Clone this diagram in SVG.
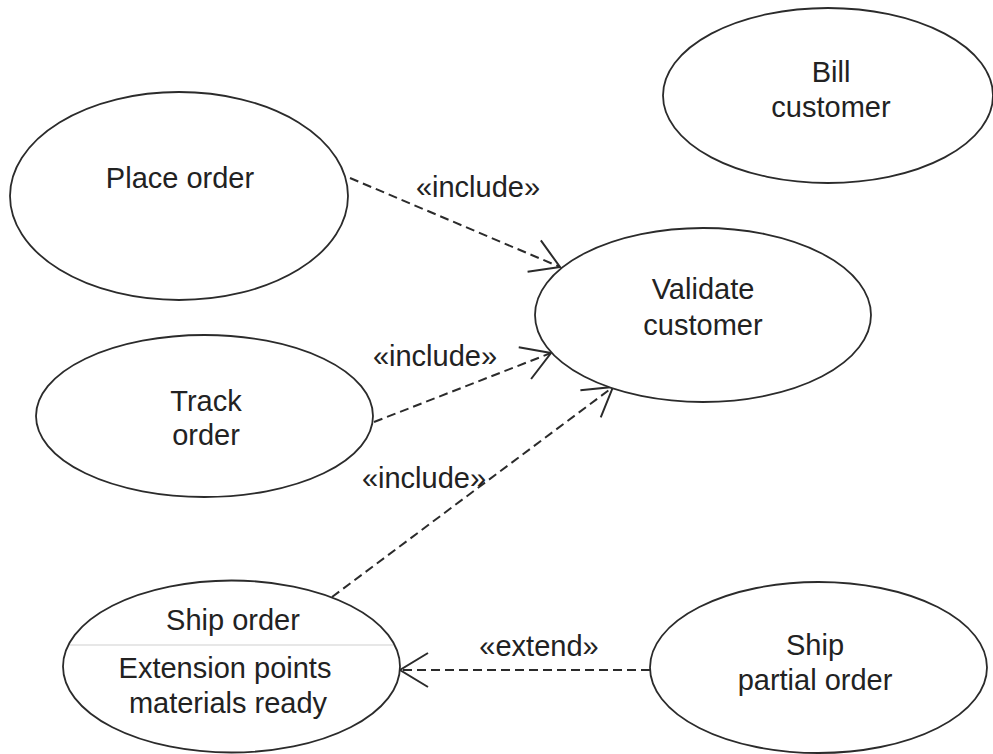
<svg xmlns="http://www.w3.org/2000/svg" width="993" height="754" viewBox="0 0 993 754">
  <style>
    .uc { fill: #ffffff; stroke: #2b2b2b; stroke-width: 1.8; }
    .t { font-family: "Liberation Sans", Arial, sans-serif; font-size: 29px; fill: #222222; text-anchor: middle; }
    .dep { fill: none; stroke: #2b2b2b; stroke-width: 2; stroke-dasharray: 9 5; }
    .sep { stroke: #d0d0d0; stroke-width: 1.2; }
  </style>
  <defs>
    <marker id="open" markerUnits="userSpaceOnUse" viewBox="-32 -20 36 40" refX="0" refY="0" markerWidth="36" markerHeight="40" orient="auto">
      <path d="M -28 -17 L 0 0 L -28 17" fill="none" stroke="#2b2b2b" stroke-width="2"/>
    </marker>
  </defs>
  <rect width="993" height="754" fill="#ffffff"/>

  <g id="connectors">
    <line class="dep" x1="350" y1="178" x2="560" y2="267" marker-end="url(#open)"/>
    <text class="t" x="478" y="197">«include»</text>
    <line class="dep" x1="374" y1="422" x2="551" y2="353" marker-end="url(#open)"/>
    <text class="t" x="435" y="366">«include»</text>
    <line class="dep" x1="332" y1="597" x2="613" y2="387" marker-end="url(#open)"/>
    <text class="t" x="424" y="488">«include»</text>
    <line class="dep" x1="650" y1="670" x2="400" y2="670" marker-end="url(#open)"/>
    <text class="t" x="539" y="656">«extend»</text>
  </g>

  <g id="place-order">
    <ellipse class="uc" cx="179" cy="196" rx="169" ry="104"/>
    <text class="t" x="180" y="188">Place order</text>
  </g>

  <g id="bill-customer">
    <ellipse class="uc" cx="828" cy="95.5" rx="165" ry="87.5"/>
    <text class="t" x="831" y="82">Bill</text>
    <text class="t" x="831" y="117">customer</text>
  </g>

  <g id="validate-customer">
    <ellipse class="uc" cx="703" cy="315" rx="168" ry="87"/>
    <text class="t" x="703" y="299">Validate</text>
    <text class="t" x="703" y="335">customer</text>
  </g>

  <g id="track-order">
    <ellipse class="uc" cx="204.5" cy="416" rx="168.5" ry="81"/>
    <text class="t" x="206" y="411">Track</text>
    <text class="t" x="206" y="445">order</text>
  </g>

  <g id="ship-order">
    <ellipse class="uc" cx="231.5" cy="666.5" rx="168.5" ry="86"/>
    <line class="sep" x1="70" y1="645" x2="393" y2="645"/>
    <text class="t" x="233" y="630">Ship order</text>
    <text class="t" x="225" y="678">Extension points</text>
    <text class="t" x="228" y="713">materials ready</text>
  </g>

  <g id="ship-partial-order">
    <ellipse class="uc" cx="818.5" cy="667.5" rx="168.5" ry="85.5"/>
    <text class="t" x="815" y="655">Ship</text>
    <text class="t" x="815" y="690">partial order</text>
  </g>
</svg>
